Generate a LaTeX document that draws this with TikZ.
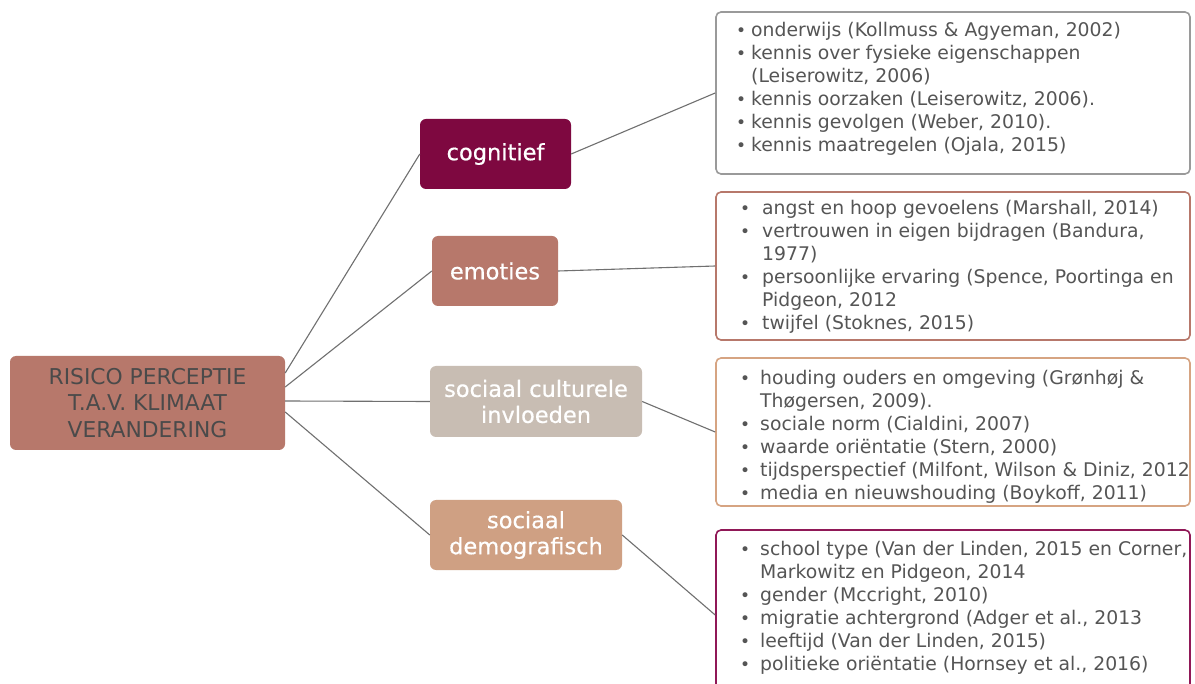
\documentclass[tikz,border=0pt]{standalone}
\usepackage{fontspec}
\setmainfont{DejaVu Sans}
\newfontfamily\labelfont{DejaVu Sans}[FakeBold=0.5]
\usetikzlibrary{calc}
\definecolor{plum}{HTML}{7E0840}
\definecolor{rose}{HTML}{B7786B}
\definecolor{greige}{HTML}{C8BDB3}
\definecolor{peach}{HTML}{CFA083}
\definecolor{peachline}{HTML}{D6A482}
\definecolor{plumline}{HTML}{901857}
\definecolor{greyline}{HTML}{9A9A9A}
\definecolor{txt}{HTML}{555555}
\definecolor{roottxt}{HTML}{4A4A4A}
\definecolor{conncol}{HTML}{707070}
\newcommand\bul[1]{\makebox[#1][l]{\fontsize{17}{17}\selectfont •}}
\begin{document}
\begin{tikzpicture}[x=1pt,y=-1pt,
  cat/.style={rectangle, rounded corners=6pt, text=white, align=center,
    font=\labelfont\fontsize{22.5}{26}\selectfont, inner sep=0pt},
  rbox/.style={rectangle, draw, line width=1.6pt, rounded corners=5pt, fill=white,
    minimum width=474pt, inner sep=0pt},
  listtxt/.style={anchor=north west, inner sep=0pt, text=txt,
    font=\fontsize{18.8}{23}\selectfont, align=left},
  conn/.style={draw=conncol, line width=1.1pt}]
\useasboundingbox (0,0) rectangle (1195,684);
\clip (0,0) rectangle (1195,684);
\fill[white] (0,0) rectangle (1195,684);

% root
\node[cat, fill=rose, text=roottxt, minimum width=275pt, minimum height=94pt,
  font=\fontsize{21.8}{26.5}\selectfont] (root) at (147.5,403)
  {RISICO PERCEPTIE\\T.A.V. KLIMAAT\\VERANDERING};

% categories
\node[cat, fill=plum, minimum width=151pt, minimum height=70pt] (cog) at (495.5,154) {cognitief};
\node[cat, fill=rose, minimum width=126pt, minimum height=70pt] (emo) at (495,271) {emoties};
\node[cat, fill=greige, minimum width=212pt, minimum height=71pt] (socc) at (536,401.5) {sociaal culturele\\invloeden};
\node[cat, fill=peach, minimum width=192pt, minimum height=70pt] (socd) at (526,535) {sociaal\\demografisch};

% right boxes
\node[rbox, draw=greyline, minimum height=162pt] (k1) at (953,93) {};
\node[rbox, draw=rose, minimum height=148pt] (k2) at (953,266) {};
\node[rbox, draw=peachline, minimum height=148pt] (k3) at (953,432) {};
\node[rbox, draw=plumline, minimum height=170pt] (k4) at (953,615) {};

\node[listtxt] (k1t) at (736,20) {\begin{tabular}{@{}l@{}l@{}}
\bul{15pt} & onderwijs (Kollmuss \& Agyeman, 2002)\\
\bul{15pt} & kennis over fysieke eigenschappen\\
 & (Leiserowitz, 2006)\\
\bul{15pt} & kennis oorzaken (Leiserowitz, 2006).\\
\bul{15pt} & kennis gevolgen (Weber, 2010).\\
\bul{15pt} & kennis maatregelen (Ojala, 2015)
\end{tabular}};

\node[listtxt] (k2t) at (740,198) {\begin{tabular}{@{}l@{}l@{}}
\bul{22pt} & angst en hoop gevoelens (Marshall, 2014)\\
\bul{22pt} & vertrouwen in eigen bijdragen (Bandura,\\
 & 1977)\\
\bul{22pt} & persoonlijke ervaring (Spence, Poortinga en\\
 & Pidgeon, 2012\\
\bul{22pt} & twijfel (Stoknes, 2015)
\end{tabular}};

\node[listtxt] (k3t) at (740,368) {\begin{tabular}{@{}l@{}l@{}}
\bul{20pt} & houding ouders en omgeving (Grønhøj \&\\
 & Thøgersen, 2009).\\
\bul{20pt} & sociale norm (Cialdini, 2007)\\
\bul{20pt} & waarde oriëntatie (Stern, 2000)\\
\bul{20pt} & tijdsperspectief (Milfont, Wilson \& Diniz, 2012\\
\bul{20pt} & media en nieuwshouding (Boykoff, 2011)
\end{tabular}};

\node[listtxt] (k4t) at (740,539) {\begin{tabular}{@{}l@{}l@{}}
\bul{20pt} & school type (Van der Linden, 2015 en Corner,\\
 & Markowitz en Pidgeon, 2014\\
\bul{20pt} & gender (Mccright, 2010)\\
\bul{20pt} & migratie achtergrond (Adger et al., 2013\\
\bul{20pt} & leeftijd (Van der Linden, 2015)\\
\bul{20pt} & politieke oriëntatie (Hornsey et al., 2016)
\end{tabular}};

% connectors
\draw[conn] ([yshift=30pt]root.east) -- (cog.west);
\draw[conn] ([yshift=16pt]root.east) -- (emo.west);
\draw[conn] ([yshift=2pt]root.east) -- (socc.west);
\draw[conn] ([yshift=-9pt]root.east) -- (socd.west);
\draw[conn] (cog.east) -- (k1.west);
\draw[conn] (emo.east) -- (k2.west);
\draw[conn] (socc.east) -- (k3.west);
\draw[conn] (socd.east) -- (k4.west);
\end{tikzpicture}
\end{document}
